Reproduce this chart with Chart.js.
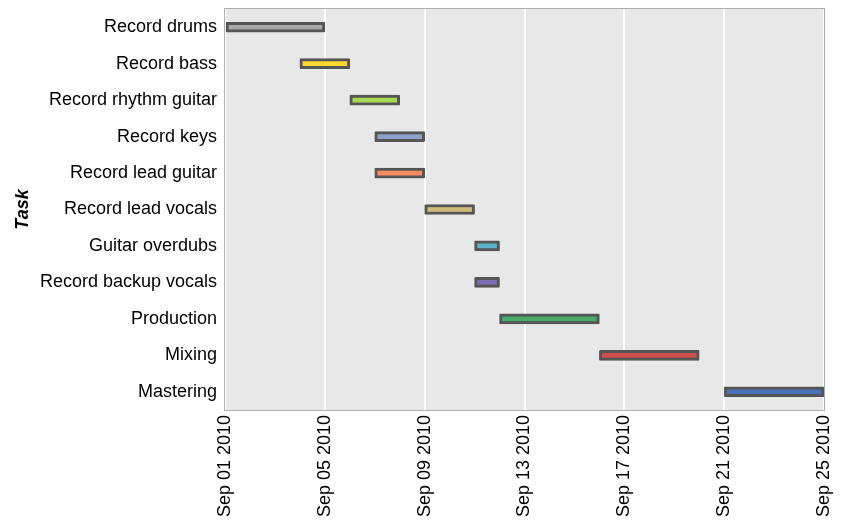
<!DOCTYPE html>
<html>
<head>
<meta charset="utf-8">
<script src="https://cdn.jsdelivr.net/npm/chart.js@4"></script>
<style>
  html, body { margin:0; padding:0; background:#fff; }
  #wrap { width:843px; height:528px; }
</style>
</head>
<body>
<div id="wrap"><canvas id="grafica"></canvas></div>
<script>
const tasks = ["Record drums", "Record bass", "Record rhythm guitar", "Record keys", "Record lead guitar",
    "Record lead vocals", "Guitar overdubs", "Record backup vocals", "Production", "Mixing", "Mastering"];
const starts = ["2010-09-01", "2010-09-04", "2010-09-06", "2010-09-07", "2010-09-07",
    "2010-09-09", "2010-09-11", "2010-09-11", "2010-09-12", "2010-09-16", "2010-09-21"];
const ends = ["2010-09-05", "2010-09-06", "2010-09-08", "2010-09-09", "2010-09-09",
    "2010-09-11", "2010-09-12", "2010-09-12", "2010-09-16", "2010-09-20", "2010-09-25"];
const colores = ["#a8a8a8", "#ffd92f", "#a6d854", "#8da0cb", "#fc8d62",
    "#ccbb78", "#5bb3c9", "#7c6fb3", "#4aa865", "#cb4d4e", "#4a72b8"];
const tickDates = ["2010-09-01", "2010-09-05", "2010-09-09", "2010-09-13", "2010-09-17", "2010-09-21", "2010-09-25"];

const origen = Date.UTC(2010, 8, 1);
const DIA = 86400000;
function dias(s) { return (Date.parse(s + "T00:00:00Z") - origen) / DIA; }
const meses = ["Jan","Feb","Mar","Apr","May","Jun","Jul","Aug","Sep","Oct","Nov","Dec"];
function fmt(d) {
    const f = new Date(origen + d * DIA);
    return meses[f.getUTCMonth()] + " " + String(f.getUTCDate()).padStart(2, "0") + " " + f.getUTCFullYear();
}

const tickVals = tickDates.map(dias);

const fondo = {
    id: "fondo",
    beforeDraw(c) {
        const a = c.chartArea, ctx = c.ctx;
        ctx.save();
        ctx.fillStyle = "#e8e8e8";
        ctx.fillRect(a.left, a.top, a.right - a.left, a.bottom - a.top);
        ctx.restore();
    },
    afterDraw(c) {
        const a = c.chartArea, ctx = c.ctx;
        ctx.save();
        ctx.strokeStyle = "#b0b0b0";
        ctx.lineWidth = 1;
        ctx.strokeRect(a.left - 0.5, a.top - 0.5, a.right - a.left + 1, a.bottom - a.top + 1);
        ctx.restore();
    }
};

const fuente = { family: "'Liberation Sans', Arial, sans-serif", size: 18 };

new Chart(document.getElementById("grafica"), {
    type: "bar",
    data: {
        labels: tasks,
        datasets: [{
            data: tasks.map((t, i) => [dias(starts[i]), dias(ends[i])]),
            backgroundColor: colores,
            borderColor: "#555555",
            borderWidth: 3,
            borderSkipped: false,
            borderRadius: 1,
            barThickness: 10
        }]
    },
    plugins: [fondo],
    options: {
        indexAxis: "y",
        responsive: true,
        maintainAspectRatio: false,
        animation: false,
        layout: { padding: { top: 9, right: 19, left: 0, bottom: 0 } },
        plugins: { legend: { display: false }, tooltip: { enabled: false } },
        scales: {
            x: {
                type: "linear",
                min: 0,
                max: 24,
                afterBuildTicks(s) { s.ticks = tickVals.map(v => ({ value: v })); },
                afterFit(s) { s.height = 118; s.paddingLeft = 0; s.paddingRight = 0; },
                ticks: {
                    callback: v => fmt(v),
                    color: "#000",
                    font: fuente,
                    maxRotation: 90,
                    minRotation: 90,
                    padding: 5,
                    autoSkip: false
                },
                grid: { color: "#ffffff", lineWidth: 2, drawTicks: false },
                border: { display: false }
            },
            y: {
                afterFit(s) { s.width = 225; s.paddingTop = 0; s.paddingBottom = 0; },
                ticks: { color: "#000", font: fuente, padding: 8 },
                grid: { display: false, drawTicks: false },
                border: { display: false },
                title: {
                    display: true,
                    text: "Task",
                    color: "#000",
                    font: { family: "'Liberation Sans', Arial, sans-serif", size: 18, weight: "bold", style: "italic" },
                    padding: { top: 12, bottom: 4 }
                }
            }
        }
    }
});
</script>
</body>
</html>
